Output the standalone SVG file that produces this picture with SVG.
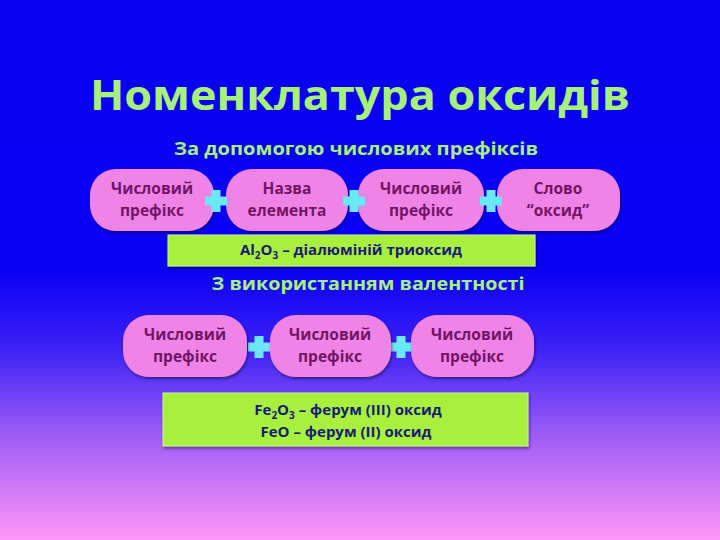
<svg xmlns="http://www.w3.org/2000/svg" width="720" height="540" viewBox="0 0 720 540">
<defs>
<linearGradient id="bg" x1="0" y1="0" x2="0" y2="1">
<stop offset="0" stop-color="#0a00f0"/>
<stop offset="0.5" stop-color="#0a00f5"/>
<stop offset="0.64" stop-color="#3a20f5"/>
<stop offset="0.8" stop-color="#9a5af5"/>
<stop offset="1" stop-color="#ff98f8"/>
</linearGradient>
<filter id="sh" x="-10%" y="-10%" width="130%" height="140%">
<feDropShadow dx="1" dy="2" stdDeviation="1.5" flood-color="#000" flood-opacity="0.45"/>
</filter>
<g id="plus"><path d="M-4.5,-11 H4.5 V-4.5 H11 V4.5 H4.5 V11 H-4.5 V4.5 H-11 V-4.5 H-4.5 Z" fill="#6ae8f4"/></g>
</defs>
<style>
.pill{fill:#ee85e6;filter:url(#sh)}
.pt{font-family:"Open Sans","Liberation Sans",sans-serif;font-weight:bold;font-size:15.5px;fill:#741466;text-anchor:middle}
.box{fill:#a8f03c;stroke:#c8f8a0;stroke-width:1;filter:url(#sh)}
.bt{font-family:"Open Sans","Liberation Sans",sans-serif;font-weight:bold;font-size:15px;fill:#1a1a7a;text-anchor:middle}
.h{font-family:"Open Sans","Liberation Sans",sans-serif;font-weight:bold;fill:#a8f07c;text-anchor:middle}
</style>
<rect width="720" height="540" fill="url(#bg)"/>
<text class="h" x="360" y="110" font-size="42" textLength="540" lengthAdjust="spacingAndGlyphs">Номенклатура оксидів</text>
<text class="h" x="356" y="155" font-size="18" textLength="364" lengthAdjust="spacingAndGlyphs">За допомогою числових префіксів</text>
<g id="n1"><rect class="pill" x="90" y="169" width="124" height="62" rx="26"/><text class="pt" x="152" y="194">Числовий</text><text class="pt" x="152" y="216">префікс</text></g>
<g id="n2"><rect class="pill" x="226" y="169" width="122" height="62" rx="26"/><text class="pt" x="287" y="194">Назва</text><text class="pt" x="287" y="216">елемента</text></g>
<g id="n3"><rect class="pill" x="358" y="169" width="126" height="62" rx="26"/><text class="pt" x="421" y="194">Числовий</text><text class="pt" x="421" y="216">префікс</text></g>
<g id="n4"><rect class="pill" x="497" y="169" width="123" height="62" rx="26"/><text class="pt" x="558" y="194">Слово</text><text class="pt" x="558" y="216">“оксид”</text></g>
<g id="connectors">
<use href="#plus" x="216" y="201"/>
<use href="#plus" x="354" y="201"/>
<use href="#plus" x="491" y="201"/>
<use href="#plus" x="259" y="347"/>
<use href="#plus" x="401" y="347"/>
</g>
<g id="b1"><rect class="box" x="168" y="235" width="367" height="31"/><text class="bt" x="351" y="255">Al<tspan font-size="10" dy="4">2</tspan><tspan dy="-4">O</tspan><tspan font-size="10" dy="4">3</tspan><tspan dy="-4"> – діалюміній триоксид</tspan></text></g>
<text class="h" x="368" y="290" font-size="18" textLength="313" lengthAdjust="spacingAndGlyphs">З використанням валентності</text>
<g id="m1"><rect class="pill" x="123" y="315" width="124" height="62" rx="26"/><text class="pt" x="185" y="340">Числовий</text><text class="pt" x="185" y="362">префікс</text></g>
<g id="m2"><rect class="pill" x="270" y="315" width="121" height="62" rx="26"/><text class="pt" x="330" y="340">Числовий</text><text class="pt" x="330" y="362">префікс</text></g>
<g id="m3"><rect class="pill" x="411" y="315" width="123" height="62" rx="26"/><text class="pt" x="472" y="340">Числовий</text><text class="pt" x="472" y="362">префікс</text></g>
<g id="b2"><rect class="box" x="163" y="393" width="365" height="53"/>
<text class="bt" x="348" y="415">Fe<tspan font-size="10" dy="4">2</tspan><tspan dy="-4">O</tspan><tspan font-size="10" dy="4">3</tspan><tspan dy="-4"> – ферум (III) оксид</tspan></text>
<text class="bt" x="346" y="437">FeO – ферум (II) оксид</text></g>
</svg>
